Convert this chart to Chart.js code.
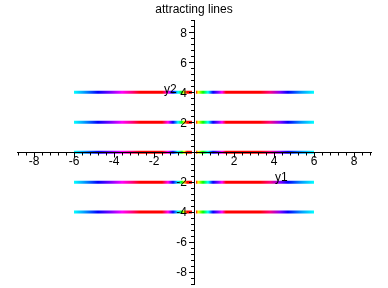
<!DOCTYPE html>
<html><head><meta charset="utf-8">
<script src="https://cdn.jsdelivr.net/npm/chart.js@4.4.0/dist/chart.umd.min.js"></script>
<style>html,body{margin:0;padding:0;background:#fff;}canvas{display:block;}</style>
</head><body>
<canvas id="c" width="388" height="288"></canvas>
<script>
// ---- data ----
const titleText = 'attracting lines';
const lineLevels = [4, 2, 0, -2, -4];
const leftSpan = [-6, -0.1];
const rightSpan = [0.1, 6];
const xTickLabels = [-8, -6, -4, -2, 2, 4, 6, 8];
const yTickLabels = [-8, -6, -4, -2, 2, 4, 6, 8];
const xAxisName = 'y1';
const yAxisName = 'y2';
// colour along the lines (x value -> colour)
const colorStopX = [-6.0, -5.5, -4.8, -4.15, -3.6, -3.1, -2.7, -1.6, -1.3, -1.05, -0.8, -0.6, -0.5, -0.35, -0.1,
                     0.1, 0.2, 0.45, 0.7, 0.95, 1.2, 1.4, 1.6, 3.3, 3.8, 4.3, 4.7, 5.4, 6.0];
const colorStopColor = ['#00ffff', '#00a0ff', '#0000ff', '#8000ff', '#ff00ff', '#ff0080', '#ff0000', '#ff0000', '#ff00ff', '#0000ff', '#00ffff', '#00ff00', '#ffff00', '#ff0000', '#ff0000',
                        '#ff0000', '#ffff00', '#00ff00', '#00ffff', '#0000ff', '#8000ff', '#ff00ff', '#ff0000', '#ff0000', '#ff0080', '#8000ff', '#0000ff', '#00a0ff', '#00ffff'];

const xRange = [-8.85, 8.85];
const yRange = [-8.8, 8.8];
const minorStep = 0.4;
const FONT = '"Liberation Sans", Arial, sans-serif';

function lineGradient(context) {
  const chart = context.chart;
  if (!chart.chartArea) return '#ff0000';
  const x = chart.scales.x;
  const a = colorStopX[0], b = colorStopX[colorStopX.length - 1];
  const g = chart.ctx.createLinearGradient(x.getPixelForValue(a), 0, x.getPixelForValue(b), 0);
  colorStopX.forEach((v, i) => g.addColorStop((v - a) / (b - a), colorStopColor[i]));
  return g;
}

const datasets = [];
lineLevels.forEach(level => {
  [leftSpan, rightSpan].forEach(span => {
    datasets.push({
      data: span.map(v => ({x: v, y: level})),
      borderColor: lineGradient,
      borderWidth: 3,
      borderCapStyle: 'butt',
      pointRadius: 0,
      tension: 0,
      fill: false
    });
  });
});

const axisDecor = {
  id: 'axisDecor',
  afterDraw(chart) {
    const {ctx, scales: {x, y}} = chart;
    const x0 = Math.round(x.getPixelForValue(0));
    const y0 = Math.round(y.getPixelForValue(0));
    ctx.save();
    ctx.strokeStyle = '#000';
    ctx.lineWidth = 1;
    ctx.beginPath();
    const nx = Math.floor(xRange[1] / minorStep + 1e-6);
    for (let i = -nx; i <= nx; i++) {
      const v = i * minorStep;
      const len = (i % 5 === 0) ? 5 : 3;
      const px = Math.round(x.getPixelForValue(v)) + 0.5;
      ctx.moveTo(px, y0); ctx.lineTo(px, y0 + len + 0.5);
    }
    const ny = Math.floor(yRange[1] / minorStep + 1e-6);
    for (let i = -ny; i <= ny; i++) {
      const v = i * minorStep;
      const len = (i % 5 === 0) ? 5 : 3;
      const py = Math.round(y.getPixelForValue(v)) + 0.5;
      ctx.moveTo(x0 - len, py); ctx.lineTo(x0 + 0.5, py);
    }
    ctx.stroke();
    ctx.fillStyle = '#000';
    ctx.font = '12px ' + FONT;
    ctx.textAlign = 'center';
    ctx.textBaseline = 'top';
    xTickLabels.forEach(v => ctx.fillText(String(v), x.getPixelForValue(v), y0 + 4));
    ctx.textAlign = 'right';
    ctx.textBaseline = 'middle';
    yTickLabels.forEach(v => ctx.fillText(String(v), x0 - 7, y.getPixelForValue(v) + 1));
    ctx.textAlign = 'left';
    ctx.textBaseline = 'alphabetic';
    ctx.fillText(xAxisName, x.getPixelForValue(4.05), y.getPixelForValue(-1.93));
    ctx.fillText(yAxisName, x.getPixelForValue(-1.5), y.getPixelForValue(3.97));
    ctx.restore();
  }
};

new Chart(document.getElementById('c'), {
  type: 'line',
  data: {datasets},
  options: {
    responsive: false,
    animation: false,
    devicePixelRatio: 1,
    layout: {padding: {left: 17, right: 17, top: 0, bottom: 4}},
    plugins: {
      legend: {display: false},
      tooltip: {enabled: false},
      title: {display: true, text: titleText, color: '#000',
              font: {family: FONT, size: 12, weight: 'normal'}, padding: {top: 2, bottom: 4}}
    },
    scales: {
      x: {
        type: 'linear', min: xRange[0], max: xRange[1],
        position: {y: 0},
        grid: {display: false, drawTicks: false},
        border: {display: true, color: '#000', width: 1, z: 1},
        ticks: {display: false},
        afterFit: s => { s.height = 0; s.paddingLeft = 0; s.paddingRight = 0; }
      },
      y: {
        type: 'linear', min: yRange[0], max: yRange[1],
        position: {x: 0},
        grid: {display: false, drawTicks: false},
        border: {display: true, color: '#000', width: 1, z: 1},
        ticks: {display: false},
        afterFit: s => { s.width = 0; s.paddingTop = 0; s.paddingBottom = 0; }
      }
    }
  },
  plugins: [axisDecor]
});
</script>
</body></html>
